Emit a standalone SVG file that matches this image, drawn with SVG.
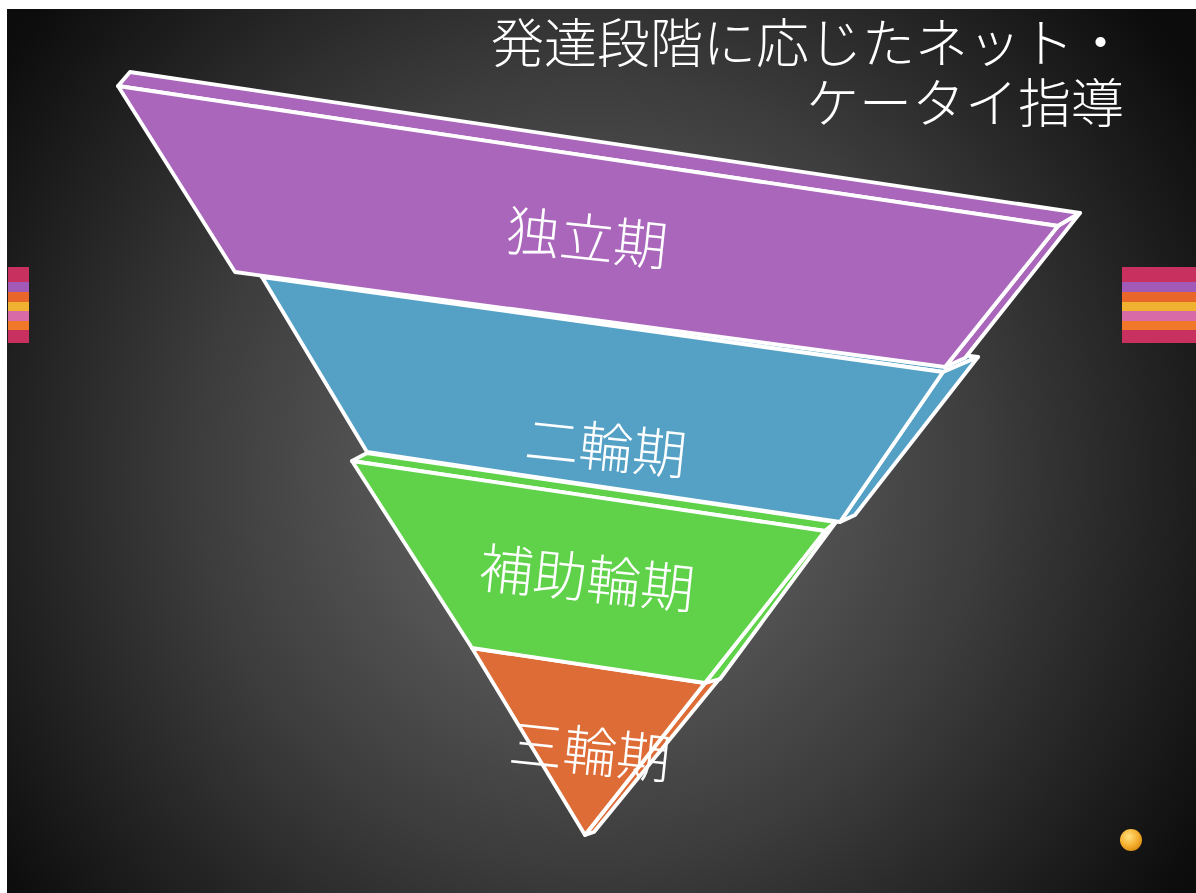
<svg xmlns="http://www.w3.org/2000/svg" width="1196" height="893" viewBox="0 0 1196 893">
<defs>
<radialGradient id="bg" cx="590" cy="470" r="720" gradientUnits="userSpaceOnUse">
<stop offset="0" stop-color="#6e6e6e"/>
<stop offset="0.55" stop-color="#3c3c3c"/>
<stop offset="1" stop-color="#0c0c0c"/>
</radialGradient>
<radialGradient id="ball" cx="0.4" cy="0.35" r="0.7">
<stop offset="0" stop-color="#ffe080"/>
<stop offset="0.6" stop-color="#f5b030"/>
<stop offset="1" stop-color="#d88a10"/>
</radialGradient>
<style>
.e{stroke:#fff;stroke-width:3.8;stroke-linejoin:round;stroke-linecap:round}
.p{fill:#a966bb}.b{fill:#55a1c6}.g{fill:#5fd24a}.o{fill:#dd6c37}
.lbl{font-family:"Noto Sans CJK JP","Noto Sans",sans-serif;font-weight:300;fill:#fff;font-size:54px;text-anchor:middle}
.ttl{font-family:"Noto Sans CJK JP","Noto Sans",sans-serif;font-weight:300;fill:#fff;font-size:53px;text-anchor:end}
</style>
</defs>
<rect width="1196" height="893" fill="#fff"/>
<rect x="7" y="9" width="1189" height="884" fill="url(#bg)"/>

<g id="title">
<text class="ttl" x="1127" y="63">発達段階に応じたネット・</text>
<text class="ttl" x="1124" y="123">ケータイ指導</text>
</g>

<g id="deco-left">
<rect x="8" y="267" width="21" height="16" fill="#c8305f"/>
<rect x="8" y="282" width="21" height="11" fill="#a25ab8"/>
<rect x="8" y="292" width="21" height="10" fill="#e8662a"/>
<rect x="8" y="302" width="21" height="10" fill="#f0b030"/>
<rect x="8" y="311" width="21" height="11" fill="#d86aa8"/>
<rect x="8" y="321" width="21" height="9" fill="#f07828"/>
<rect x="8" y="330" width="21" height="13" fill="#c8305f"/>
</g>
<g id="deco-right">
<rect x="1122" y="267" width="74" height="16" fill="#c8305f"/>
<rect x="1122" y="282" width="74" height="11" fill="#a25ab8"/>
<rect x="1122" y="292" width="74" height="10" fill="#e8662a"/>
<rect x="1122" y="302" width="74" height="10" fill="#f0b030"/>
<rect x="1122" y="311" width="74" height="11" fill="#d86aa8"/>
<rect x="1122" y="321" width="74" height="9" fill="#f07828"/>
<rect x="1122" y="330" width="74" height="13" fill="#c8305f"/>
</g>
<g id="ball-node"><circle cx="1131" cy="840" r="11" fill="url(#ball)"/></g>

<g id="band-orange">
<polygon class="o e" points="705,683 720,678 594,832 585,835"/>
<polygon class="o e" points="472,648 705,683 585,835"/>
<text class="lbl" x="0" y="0" transform="translate(588,771) rotate(6)">三輪期</text>
</g>

<g id="band-green">
<polygon class="g e" points="352,461 367,453 836,522 825,531"/>
<polygon class="g e" points="825,531 836,522 720,679 705,683"/>
<polygon class="g e" points="352,461 825,531 705,683 472,648"/>
<text class="lbl" x="0" y="0" transform="translate(585,598) rotate(6)">補助輪期</text>
</g>

<g id="band-blue">
<polygon class="b e" points="253,266 978,357 943,372 262,277"/>
<polygon class="b e" points="943,372 978,357 855,515 840,522"/>
<polygon class="b e" points="262,277 943,372 840,522 367,452"/>
<text class="lbl" x="0" y="0" transform="translate(604,467) rotate(6)">二輪期</text>
</g>

<g id="band-purple">
<polygon class="p e" points="130,72 1080,213 1058,226 118,86"/>
<polygon class="p e" points="1058,226 1080,213 965,358 945,367"/>
<polygon class="p e" points="118,86 1058,226 945,367 235,272"/>
<text class="lbl" x="0" y="0" transform="translate(585,258) rotate(6)">独立期</text>
</g>
</svg>
